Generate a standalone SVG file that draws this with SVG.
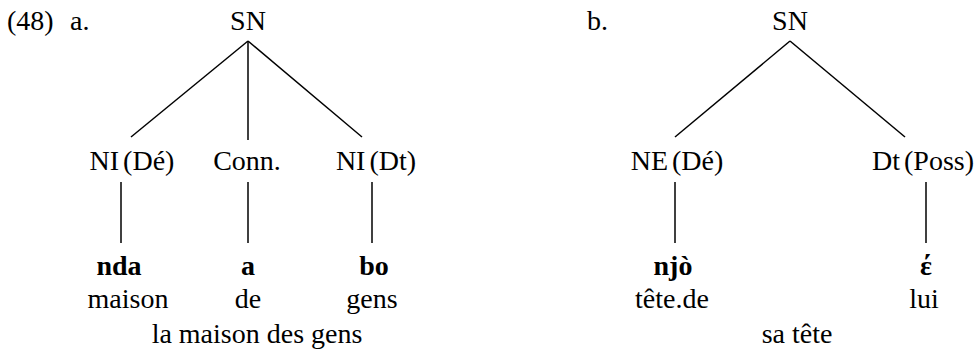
<svg xmlns="http://www.w3.org/2000/svg" width="977" height="351" viewBox="0 0 977 351">
<style>
text{font-family:"Liberation Serif","Times New Roman",serif;font-size:28px;fill:#000;text-anchor:middle}
.l{text-anchor:start}
.b{font-weight:bold}
.t{word-spacing:-3px}
line{stroke:#000;stroke-width:1.5}
</style>
<rect width="977" height="351" fill="#fff"/>
<g id="labels">
<text class="l" x="7" y="30">(48)</text>
<text class="l" x="70" y="30">a.</text>
<text class="l" x="587" y="30">b.</text>
</g>
<g id="connectors">
<line x1="248" y1="41" x2="131" y2="137"/>
<line x1="248" y1="41" x2="248" y2="140"/>
<line x1="248" y1="41" x2="362" y2="137"/>
<line x1="121" y1="182" x2="121" y2="243"/>
<line x1="248" y1="182" x2="248" y2="243"/>
<line x1="372" y1="182" x2="372" y2="243"/>
<line x1="790" y1="41" x2="675" y2="137"/>
<line x1="790" y1="41" x2="905" y2="137"/>
<line x1="675" y1="182" x2="675" y2="243"/>
<line x1="926" y1="182" x2="926" y2="243"/>
</g>
<g id="a-SN"><text x="248" y="30">SN</text></g>
<g id="a-NI-De"><text class="t" x="132" y="170">NI (Dé)</text></g>
<g id="a-Conn"><text x="247" y="170">Conn.</text></g>
<g id="a-NI-Dt"><text class="t" x="376" y="170">NI (Dt)</text></g>
<g id="a-nda"><text class="b" x="119" y="275">nda</text><text x="128" y="308">maison</text></g>
<g id="a-a"><text class="b" x="248" y="275">a</text><text x="248" y="308">de</text></g>
<g id="a-bo"><text class="b" x="374" y="275">bo</text><text x="372" y="308">gens</text></g>
<g id="a-gloss"><text x="257" y="343">la maison des gens</text></g>
<g id="b-SN"><text x="790" y="30">SN</text></g>
<g id="b-NE-De"><text class="t" x="677" y="170">NE (Dé)</text></g>
<g id="b-Dt-Poss"><text class="t" x="923" y="170">Dt (Poss)</text></g>
<g id="b-njo"><text class="b" x="673" y="275">njò</text><text x="672" y="308">tête.de</text></g>
<g id="b-e"><text class="b" x="926" y="275">έ</text><text x="924" y="308">lui</text></g>
<g id="b-gloss"><text x="797" y="343">sa tête</text></g>
</svg>
